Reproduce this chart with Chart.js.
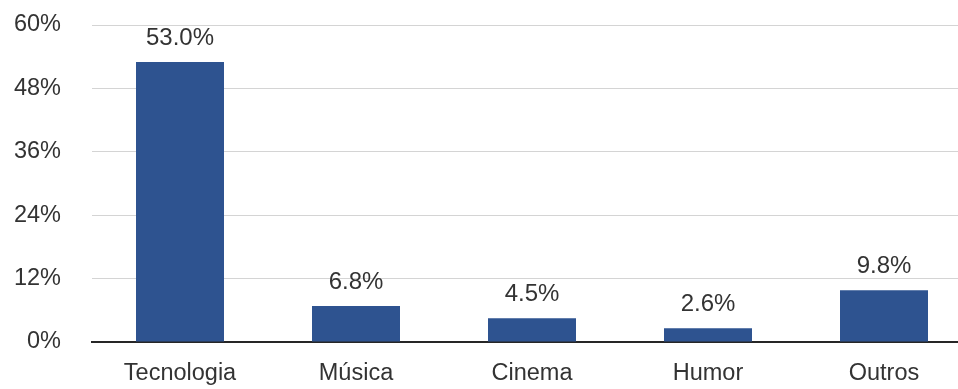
<!DOCTYPE html>
<html>
<head>
<meta charset="utf-8">
<script src="https://cdn.jsdelivr.net/npm/chart.js@4/dist/chart.umd.min.js"></script>
<style>
  html, body { margin: 0; padding: 0; background: #fff; overflow: hidden; }
  #wrap { position: relative; width: 972px; height: 389px; }
</style>
</head>
<body>
<div id="wrap"><canvas id="interestChart"></canvas></div>
<script>
// Share of interest by category, single bar series with value labels on top.
const categories = ['Tecnologia', 'Música', 'Cinema', 'Humor', 'Outros'];
const shares = [53.0, 6.8, 4.5, 2.6, 9.8];
const yTicks = [0, 12, 24, 36, 48, 60];

const BAR_BLUE = '#2e5390';
const TEXT = '#333333';
const FONT = "'Liberation Sans', Arial, Helvetica, sans-serif";

// Draws "53.0%" etc. just above each bar
const valueLabels = {
  id: 'valueLabels',
  afterDatasetsDraw(chart) {
    const ctx = chart.ctx;
    const meta = chart.getDatasetMeta(0);
    ctx.save();
    ctx.font = '24px ' + FONT;
    ctx.fillStyle = TEXT;
    ctx.textAlign = 'center';
    ctx.textBaseline = 'alphabetic';
    meta.data.forEach(function (bar, i) {
      ctx.fillText(shares[i].toFixed(1) + '%', bar.x, bar.y - 17);
    });
    ctx.restore();
  }
};

new Chart(document.getElementById('interestChart'), {
  type: 'bar',
  data: {
    labels: categories,
    datasets: [{
      data: shares,
      backgroundColor: BAR_BLUE,
      borderWidth: 0,
      barPercentage: 0.5,
      categoryPercentage: 1.0
    }]
  },
  plugins: [valueLabels],
  options: {
    responsive: true,
    maintainAspectRatio: false,
    animation: false,
    layout: { padding: { top: 25, right: 0, bottom: 0, left: 0 } },
    plugins: {
      legend: { display: false },
      tooltip: { enabled: false }
    },
    scales: {
      x: {
        grid: { display: false, drawTicks: false },
        border: { display: true, color: '#262626', width: 2 },
        ticks: {
          color: TEXT,
          font: { family: FONT, size: 23.5 },
          padding: 17,
          maxRotation: 0
        },
        afterFit(scale) { scale.height = 47; }
      },
      y: {
        min: 0,
        max: 60,
        afterBuildTicks(scale) {
          scale.ticks = yTicks.map(function (v) { return { value: v }; });
        },
        grid: {
          // invisible tick marks keep the labels clear of the grid start
          drawTicks: true,
          tickLength: 31,
          tickColor: 'rgba(0,0,0,0)',
          color(ctx) { return ctx.tick && ctx.tick.value === 0 ? 'rgba(0,0,0,0)' : '#d4d4d4'; },
          lineWidth: 1
        },
        border: { display: false },
        ticks: {
          color: TEXT,
          font: { family: FONT, size: 23.5 },
          padding: 0,
          callback(value) { return value + '%'; }
        },
        afterFit(scale) { scale.width = 92; }
      }
    }
  }
});
</script>
</body>
</html>
